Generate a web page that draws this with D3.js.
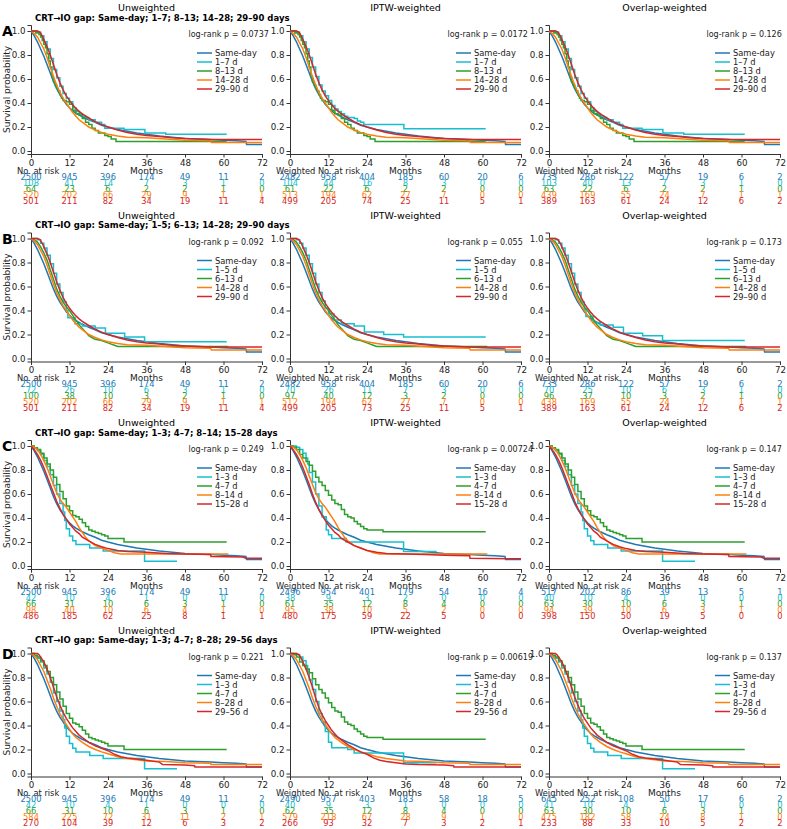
<!DOCTYPE html>
<html>
<head>
<meta charset="utf-8">
<script src="https://cdn.jsdelivr.net/npm/d3@7"></script>
<style>
  body { margin: 0; background: #fff; }
  text { font-family: "DejaVu Sans", sans-serif; fill: #222; }
  .domain, .tick line { stroke: #333; }
</style>
</head>
<body>
<svg id="chart" width="787" height="829"></svg>
<script>
// ---- data ----
const months = [0, 12, 24, 36, 48, 60, 72];
const yTicks = [0, 0.2, 0.4, 0.6, 0.8, 1.0];
const groupColors = ["#1f77b4", "#17becf", "#2ca02c", "#ff7f0e", "#d62728"];
const weightings = ["Unweighted", "IPTW-weighted", "Overlap-weighted"];
const riskTitles = ["No. at risk", "Weighted No. at risk", "Weighted No. at risk"];
const rowLetters = ["A", "B", "C", "D"];
const rowTitles = [
  "CRT\u2192IO gap: Same-day; 1\u20137; 8\u201313; 14\u201328; 29\u201390 days",
  "CRT\u2192IO gap: Same-day; 1\u20135; 6\u201313; 14\u201328; 29\u201390 days",
  "CRT\u2192IO gap: Same-day; 1\u20133; 4\u20137; 8\u201314; 15\u201328 days",
  "CRT\u2192IO gap: Same-day; 1\u20133; 4\u20137; 8\u201328; 29\u201356 days"
];
const groupLabels = [
  ["Same-day", "1\u20137 d", "8\u201313 d", "14\u201328 d", "29\u201390 d"],
  ["Same-day", "1\u20135 d", "6\u201313 d", "14\u201328 d", "29\u201390 d"],
  ["Same-day", "1\u20133 d", "4\u20137 d", "8\u201314 d", "15\u201328 d"],
  ["Same-day", "1\u20133 d", "4\u20137 d", "8\u201328 d", "29\u201356 d"]
];
const pValues = [
  ["0.0737", "0.0172", "0.126"],
  ["0.092", "0.055", "0.173"],
  ["0.249", "0.00724", "0.147"],
  ["0.221", "0.00619", "0.137"]
];

// survival curves [month, probability]
const sameDay = [[0,1],[1,0.96],[2,0.91],[3,0.85],[4,0.79],[5,0.72],[6,0.65],[7,0.58],[8,0.52],[9,0.47],[10,0.43],[11,0.39],[12,0.36],[13,0.335],[14,0.315],[15,0.3],[16,0.285],[18,0.26],[20,0.24],[22,0.215],[24,0.2],[27,0.18],[30,0.165],[33,0.15],[36,0.14],[40,0.125],[44,0.115],[48,0.105],[52,0.1],[56,0.095],[60,0.09],[64,0.085],[67,0.08],[67.2,0.055],[72,0.055]];

const aCyanUnw = [[0,1],[2,0.99],[3,0.96],[4,0.91],[5,0.85],[6,0.77],[7,0.68],[8,0.61],[9,0.54],[10,0.48],[11,0.44],[12,0.41],[13,0.36],[14,0.33],[15,0.31],[16,0.29],[17,0.28],[18,0.26],[20,0.24],[22,0.22],[23,0.19],[29,0.18],[35.5,0.15],[42,0.14],[61,0.14]];
const aCyanIptw = [[0,1],[2,0.99],[3,0.96],[4,0.91],[5,0.85],[6,0.78],[7,0.7],[8,0.62],[9,0.55],[10,0.5],[11,0.46],[12,0.42],[13,0.38],[14,0.35],[15,0.33],[16,0.31],[17,0.29],[18,0.28],[20,0.27],[21,0.25],[22,0.24],[23,0.22],[35.5,0.185],[61,0.185]];
const aGreen = [[0,1],[1.5,0.984],[2.5,0.97],[3,0.95],[3.5,0.92],[4,0.89],[4.5,0.86],[5,0.81],[5.5,0.75],[6,0.7],[6.5,0.62],[7,0.58],[7.5,0.55],[8,0.52],[8.5,0.5],[9,0.47],[9.5,0.44],[10,0.42],[11,0.41],[12,0.39],[13,0.34],[14,0.31],[15,0.3],[16,0.27],[17,0.24],[18,0.22],[19,0.19],[20,0.17],[21,0.15],[23,0.13],[24,0.12],[25,0.1],[26.5,0.08],[61,0.08]];
const aOrange = [[0,1],[1,0.98],[2,0.95],[3,0.9],[4,0.85],[5,0.78],[6,0.7],[7,0.62],[8,0.55],[9,0.49],[10,0.44],[11,0.4],[12,0.36],[13,0.32],[14,0.29],[15,0.26],[16,0.24],[18,0.2],[20,0.175],[22,0.155],[24,0.14],[27,0.125],[30,0.115],[36,0.11],[42,0.1],[48,0.09],[56,0.085],[56.2,0.07],[72,0.07]];
const aRed = [[0,1],[2,1],[2.8,0.99],[3.5,0.96],[4,0.93],[5,0.87],[6,0.8],[7,0.72],[8,0.64],[9,0.57],[10,0.51],[11,0.46],[12,0.42],[13,0.385],[14,0.355],[15,0.33],[16,0.31],[18,0.275],[20,0.245],[22,0.22],[24,0.2],[27,0.175],[30,0.155],[33,0.14],[36,0.13],[40,0.12],[44,0.11],[48,0.105],[52,0.1],[56,0.095],[72,0.095]];

const bCyanUnw = [[0,1],[2,0.99],[3,0.96],[4,0.92],[5,0.86],[6,0.79],[7,0.71],[8,0.62],[9,0.55],[10,0.47],[11,0.4],[11.5,0.34],[13.7,0.29],[16,0.27],[20,0.255],[23.2,0.21],[29.2,0.18],[35.4,0.14],[61,0.14]];
const bCyanIptw = [[0,1],[2,0.99],[3,0.96],[4,0.92],[5,0.86],[6,0.79],[7,0.71],[8,0.62],[9,0.55],[10,0.48],[11,0.42],[12,0.37],[13.7,0.32],[16,0.29],[20,0.27],[23.2,0.22],[29.2,0.2],[35.4,0.18],[61,0.18]];
const bCyanOw = [[0,1],[2,0.99],[3,0.96],[4,0.92],[5,0.86],[6,0.79],[7,0.71],[8,0.62],[9,0.55],[10,0.47],[11,0.41],[11.5,0.35],[13.7,0.3],[16,0.28],[20,0.26],[23.2,0.21],[29.2,0.19],[35.4,0.15],[61,0.15]];
const bGreen = [[0,1],[1,0.99],[2,0.97],[3,0.93],[4,0.88],[5,0.82],[6,0.74],[7,0.66],[8,0.58],[9,0.52],[10,0.47],[11,0.43],[12,0.4],[13,0.36],[14,0.32],[15,0.28],[16,0.25],[17,0.22],[18,0.19],[19,0.175],[20,0.16],[22,0.15],[24,0.13],[25,0.12],[26,0.11],[27,0.1],[61.5,0.1]];

const cCyanUnw = [[0,1],[1,0.98],[2,0.96],[3,0.93],[4,0.88],[5,0.83],[6,0.76],[7,0.67],[8,0.6],[9,0.52],[10,0.45],[10.5,0.38],[11,0.31],[12,0.25],[13,0.21],[14,0.18],[18.3,0.15],[22.5,0.125],[35.4,0.04],[45.5,0.04]];
const cCyanIptw = [[0,1],[2,0.99],[3,0.97],[4,0.94],[5,0.9],[5.5,0.85],[6,0.78],[7,0.7],[8,0.6],[9,0.5],[10,0.41],[11.3,0.3],[12,0.26],[13,0.23],[17.5,0.2],[35.4,0.12],[45.7,0.12]];
const cGreenUnw = [[0,1],[1,0.985],[2,0.97],[3,0.94],[4,0.9],[5,0.85],[6,0.8],[7,0.74],[8,0.68],[9,0.62],[10,0.56],[11,0.5],[12,0.46],[13,0.42],[14,0.41],[15,0.39],[16,0.36],[17,0.33],[18,0.3],[19,0.29],[20,0.28],[21,0.27],[22,0.26],[23,0.25],[24,0.23],[29,0.2],[61,0.2]];
const cGreenIptw = [[0,1],[1,0.99],[2,0.97],[3,0.93],[4,0.9],[5,0.87],[6,0.84],[7,0.79],[8,0.74],[9,0.7],[10,0.67],[11,0.63],[12,0.59],[13,0.55],[14,0.52],[15,0.51],[16,0.47],[17,0.43],[18,0.41],[19,0.4],[20,0.37],[21,0.35],[22,0.33],[23,0.31],[24,0.3],[29,0.285],[61,0.285]];
const cOrange = [[0,1],[1,0.99],[2,0.97],[3,0.93],[4,0.88],[5,0.82],[6,0.75],[7,0.68],[8,0.61],[9,0.56],[10,0.52],[11,0.49],[12,0.45],[13,0.41],[14,0.37],[15,0.32],[16,0.28],[17,0.24],[18,0.21],[19,0.19],[20,0.17],[22,0.15],[24,0.13],[26,0.11],[28,0.1],[61.5,0.1]];
const cRedUnw = [[0,1],[1,0.97],[2,0.93],[3,0.88],[4,0.82],[5,0.75],[6,0.68],[7,0.61],[8,0.54],[9,0.48],[10,0.43],[11,0.39],[12,0.35],[13,0.32],[14,0.29],[15,0.27],[16,0.24],[18,0.21],[20,0.18],[22,0.16],[24,0.145],[27,0.13],[30,0.12],[36,0.115],[42,0.105],[48,0.1],[56,0.095],[56.1,0.08],[66,0.075],[67,0.065],[72,0.065]];
const cRedIptw = [[0,1],[1,0.97],[2,0.93],[3,0.88],[4,0.82],[5,0.75],[6,0.68],[7,0.6],[8,0.53],[9,0.47],[10,0.42],[11,0.38],[12,0.34],[13,0.31],[14,0.28],[15,0.26],[16,0.23],[18,0.2],[20,0.17],[22,0.15],[24,0.13],[27,0.115],[30,0.105],[36,0.1],[42,0.095],[48,0.09],[56,0.085],[56.1,0.065],[72,0.06]];

const dCyanIptw = [[0,1],[2,0.99],[3,0.97],[4,0.94],[5,0.9],[5.5,0.85],[6,0.78],[7,0.7],[8,0.6],[9,0.5],[10,0.43],[11,0.35],[12,0.26],[13,0.215],[18,0.2],[20,0.17],[35.4,0.09],[45.7,0.09]];
const dOrange = [[0,1],[1,0.98],[2,0.95],[3,0.9],[4,0.85],[5,0.78],[6,0.71],[7,0.63],[8,0.56],[9,0.5],[10,0.45],[11,0.41],[12,0.37],[13,0.33],[14,0.3],[15,0.28],[16,0.26],[18,0.225],[20,0.2],[22,0.18],[24,0.165],[27,0.14],[30,0.125],[33,0.115],[36,0.105],[42,0.1],[48,0.09],[56,0.085],[56.1,0.075],[72,0.075]];
const dRedUnw = [[0,1],[2,1],[2.5,0.99],[3,0.97],[4,0.93],[5,0.87],[6,0.8],[7,0.72],[8,0.64],[9,0.57],[10,0.51],[11,0.46],[12,0.42],[13,0.38],[14,0.35],[15,0.32],[16,0.3],[18,0.26],[20,0.23],[22,0.21],[24,0.19],[26,0.16],[28,0.14],[30,0.13],[33,0.12],[36,0.11],[40,0.095],[41,0.075],[48,0.07],[51,0.065],[51.1,0.055],[72,0.055]];
const dRedIptw = [[0,1],[2,1],[2.8,0.99],[3.5,0.96],[4,0.93],[5,0.87],[6,0.8],[7,0.72],[8,0.63],[9,0.55],[10,0.49],[11,0.44],[12,0.4],[13,0.36],[14,0.33],[15,0.3],[16,0.28],[18,0.24],[20,0.21],[22,0.18],[24,0.16],[26,0.13],[28,0.11],[30,0.1],[33,0.09],[36,0.08],[40,0.075],[48,0.07],[51,0.065],[51.1,0.055],[72,0.055]];

// number at risk at 0,12,...,72 months (rows: same-day, group 2..5)
const riskA = [
  [[2500,945,396,174,49,11,2],[108,41,14,7,3,1,0],[64,23,6,2,2,1,0],[520,202,66,29,9,1,1],[501,211,82,34,19,11,4]],
  [[2482,958,404,185,60,20,6],[104,44,16,8,3,0,0],[61,22,6,2,2,0,0],[513,194,62,27,7,0,0],[499,205,74,25,11,5,1]],
  [[733,286,122,57,19,6,2],[103,40,13,7,3,1,0],[63,22,6,2,2,1,0],[439,169,55,24,7,1,1],[389,163,61,24,12,6,2]]
];
const riskB = [
  [[2500,945,396,174,49,11,2],[72,26,10,6,3,1,0],[100,38,10,3,2,1,0],[520,202,66,29,9,1,1],[501,211,82,34,19,11,4]],
  [[2482,958,404,185,60,20,6],[70,26,11,7,3,0,0],[97,40,12,3,2,0,0],[512,194,62,27,7,0,0],[499,205,73,25,11,5,1]],
  [[733,286,122,57,19,6,2],[70,25,10,6,3,1,0],[96,37,10,3,2,1,0],[438,169,55,24,7,1,1],[389,163,61,24,12,6,2]]
];
const riskC = [
  [[2500,945,396,174,49,11,2],[42,10,4,1,0,0,0],[66,31,10,6,3,1,0],[98,40,10,6,4,1,0],[486,185,62,25,8,1,1]],
  [[2496,954,401,179,54,16,4],[38,9,3,2,0,0,0],[61,35,12,8,4,0,0],[95,38,10,5,2,0,0],[480,175,59,22,5,0,0]],
  [[517,202,86,39,13,5,1],[40,10,4,1,0,0,0],[63,30,10,6,3,1,0],[94,39,10,6,3,1,0],[398,150,50,19,5,0,0]]
];
const riskD = [
  [[2500,945,396,174,49,11,2],[42,10,4,1,0,0,0],[66,31,10,6,3,1,0],[584,225,72,31,11,2,1],[270,104,39,12,6,3,2]],
  [[2490,957,403,183,58,18,5],[40,9,3,1,0,0,0],[62,35,12,8,4,0,0],[579,218,67,28,9,1,0],[266,93,32,7,3,2,1]],
  [[645,252,108,50,17,6,2],[41,10,4,1,0,0,0],[63,30,10,6,3,1,0],[475,182,58,24,8,1,0],[233,88,33,10,5,2,2]]
];

// which curve goes in which panel
const panelCurves = [
  [[sameDay,aCyanUnw,aGreen,aOrange,aRed],[sameDay,aCyanIptw,aGreen,aOrange,aRed],[sameDay,aCyanUnw,aGreen,aOrange,aRed]],
  [[sameDay,bCyanUnw,bGreen,aOrange,aRed],[sameDay,bCyanIptw,bGreen,aOrange,aRed],[sameDay,bCyanOw,bGreen,aOrange,aRed]],
  [[sameDay,cCyanUnw,cGreenUnw,cOrange,cRedUnw],[sameDay,cCyanIptw,cGreenIptw,cOrange,cRedIptw],[sameDay,cCyanUnw,cGreenUnw,cOrange,cRedUnw]],
  [[sameDay,cCyanUnw,cGreenUnw,dOrange,dRedUnw],[sameDay,dCyanIptw,cGreenIptw,dOrange,dRedIptw],[sameDay,cCyanUnw,cGreenUnw,dOrange,dRedUnw]]
];
const riskTables = [riskA, riskB, riskC, riskD];
// small groups are drawn as steps
const stepGroups = [[false,true,true,false,false],[false,true,false,false,false],[false,true,true,false,false],[false,true,true,false,false]];

// ---- layout ----
const svg = d3.select("#chart");
svg.append("rect").attr("width", 787).attr("height", 829).attr("fill", "#fff");

const rowTops = [25, 232.5, 440, 647.5];
const colLefts = [31, 290, 549];
const plotW = 231, plotH = 129;

rowTops.forEach((top, r) => {
  // panel letter and row heading
  svg.append("text").attr("x", 2).attr("y", top + 11)
    .style("font-size", "14px").style("font-weight", "bold").style("fill", "#000")
    .text(rowLetters[r]);
  svg.append("text").attr("x", 35).attr("y", top - 4.5)
    .style("font-size", "8.5px").style("font-weight", "bold").style("fill", "#000")
    .text(rowTitles[r]);

  colLefts.forEach((left, c) => {
    const x = d3.scaleLinear().domain([0, 72]).range([left, left + plotW]);
    const y = d3.scaleLinear().domain([-0.025, 1.05]).range([top + plotH, top]);
    const g = svg.append("g");

    g.append("text").attr("x", left + plotW / 2).attr("y", top - 14)
      .attr("text-anchor", "middle").style("font-size", "9.5px").style("fill", "#000")
      .text(weightings[c]);

    const xAxis = d3.axisBottom(x).tickValues(months).tickSizeOuter(0).tickSize(3.5).tickPadding(2);
    const yAxis = d3.axisLeft(y).tickValues(yTicks).tickFormat(d3.format(".1f")).tickSizeOuter(0).tickSize(3.5).tickPadding(2);
    g.append("g").attr("transform", `translate(0,${top + plotH})`).call(xAxis);
    g.append("g").attr("transform", `translate(${left},0)`).call(yAxis);
    g.selectAll(".tick text").style("font-size", "8.7px").style("font-family", "DejaVu Sans").style("fill", "#222");

    if (c === 0) {
      g.append("text")
        .attr("transform", `translate(10,${top + plotH / 2}) rotate(-90)`)
        .attr("text-anchor", "middle").style("font-size", "9px")
        .text("Survival probability");
    }

    // curves
    panelCurves[r][c].forEach((curve, i) => {
      const line = d3.line()
        .x(d => x(d[0])).y(d => y(d[1]))
        .curve(stepGroups[r][i] ? d3.curveStepAfter : d3.curveLinear);
      g.append("path").datum(curve)
        .attr("d", line).attr("fill", "none")
        .attr("stroke", groupColors[i]).attr("stroke-width", 1.5);
    });

    g.append("text").attr("x", left + 157.5).attr("y", top + 12)
      .style("font-size", "8px").text("log-rank p = " + pValues[r][c]);

    // legend
    groupLabels[r].forEach((lab, i) => {
      const ly = top + 28 + i * 9;
      g.append("line").attr("x1", left + 166).attr("x2", left + 181)
        .attr("y1", ly).attr("y2", ly)
        .attr("stroke", groupColors[i]).attr("stroke-width", 1.5);
      g.append("text").attr("x", left + 184).attr("y", ly + 3)
        .style("font-size", "8.3px").text(lab);
    });

    // x label and risk table
    g.append("text").attr("x", left + plotW / 2).attr("y", top + plotH + 19.5)
      .attr("text-anchor", "middle").style("font-size", "9px").text("Months");
    g.append("text").attr("x", left - 14).attr("y", top + plotH + 19.5)
      .style("font-size", "8.3px").text(riskTitles[c]);

    riskTables[r][c].forEach((counts, i) => {
      g.selectAll(null).data(counts).enter().append("text")
        .attr("x", (d, k) => x(months[k]))
        .attr("y", top + plotH + 25.5 + i * 6.1)
        .attr("text-anchor", "middle")
        .style("font-size", "8.3px")
        .style("fill", groupColors[i])
        .text(d => d);
    });
  });
});
</script>
</body>
</html>
